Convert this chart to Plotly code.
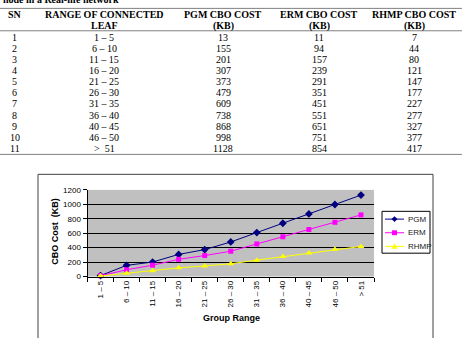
import plotly.graph_objects as go

# ---------------- data ----------------
sn = [1, 2, 3, 4, 5, 6, 7, 8, 9, 10, 11]
group_range = ["1 – 5", "6 – 10", "11 – 15", "16 – 20", "21 – 25", "26 – 30",
               "31 – 35", "36 – 40", "40 – 45", "46 – 50", "> 51"]
pgm = [13, 155, 201, 307, 373, 479, 609, 738, 868, 998, 1128]
erm = [11, 94, 157, 239, 291, 351, 451, 551, 651, 751, 854]
rhmp = [7, 44, 80, 121, 147, 177, 227, 277, 327, 377, 417]
series_names = ["PGM", "ERM", "RHMP"]
header_top = ["SN", "RANGE OF CONNECTED", "PGM CBO COST", "ERM CBO COST", "RHMP CBO COST"]
header_bot = ["", "LEAF", "(KB)", "(KB)", "(KB)"]
y_ticks = [0, 200, 400, 600, 800, 1000, 1200]

# ---------------- geometry helpers ----------------
W, H = 462, 338


def px(x):
    return x / W


def py(y):
    return 1 - y / H


colors = ["#000080", "#FF00FF", "#FFFF00"]
symbols = ["diamond", "square", "triangle-up"]
msizes = [6, 5, 6]

fig = go.Figure()
for name, vals, c, s, ms in zip(series_names, [pgm, erm, rhmp], colors, symbols, msizes):
    fig.add_trace(go.Scatter(
        x=group_range, y=vals, name=name, mode="lines+markers",
        line=dict(color=c, width=1),
        marker=dict(symbol=s, size=ms, color=c, line=dict(width=0)),
        showlegend=False, cliponaxis=False,
    ))

shapes = []
annotations = []

# ---------------- table ----------------
serif = dict(family="Liberation Serif, Times New Roman, serif", size=10, color="#000")
col_x = [15, 104, 223, 319, 414]
line_col = "#808080"
for y in [4.5, 27.5, 154.5]:
    shapes.append(dict(type="line", xref="paper", yref="paper",
                       x0=0, x1=1, y0=py(y), y1=py(y),
                       line=dict(color=line_col, width=1)))

# caption line above the table, cut by the top edge as in the reference
annotations.append(dict(text="<b>node in a Real-life network</b>", xref="paper", yref="paper",
                        x=px(1), y=py(3.5), xanchor="left", yanchor="bottom",
                        showarrow=False, font=serif))

for i, cx in enumerate(col_x):
    annotations.append(dict(text="<b>%s</b>" % header_top[i], xref="paper", yref="paper",
                            x=px(cx), y=py(11), xanchor="center", yanchor="middle",
                            showarrow=False, font=serif))
    if header_bot[i]:
        annotations.append(dict(text="<b>%s</b>" % header_bot[i], xref="paper", yref="paper",
                                x=px(cx), y=py(22.5), xanchor="center", yanchor="middle",
                                showarrow=False, font=serif))

for r in range(len(sn)):
    yy = 34 + r * 11.45
    rng = group_range[r].replace("> ", ">\u00a0\u00a0")
    row = [str(sn[r]), rng, str(pgm[r]), str(erm[r]), str(rhmp[r])]
    for cx, t in zip(col_x, row):
        annotations.append(dict(text=t, xref="paper", yref="paper",
                                x=px(cx), y=py(yy), xanchor="center", yanchor="middle",
                                showarrow=False, font=serif))

# ---------------- chart frame ----------------
shapes.append(dict(type="rect", xref="paper", yref="paper",
                   x0=px(38), x1=px(433), y0=py(345), y1=py(175),
                   line=dict(color="#404040", width=1), fillcolor="rgba(0,0,0,0)", layer="below"))

sans = "Liberation Sans, Arial, sans-serif"
annotations.append(dict(text="<b>Group Range</b>", xref="paper", yref="paper",
                        x=px(231), y=py(323), xanchor="center", yanchor="middle",
                        showarrow=False, font=dict(family=sans, size=9, color="#000")))
annotations.append(dict(text="<b>CBO Cost\u00a0 (KB)</b>", xref="paper", yref="paper",
                        x=px(55), y=py(234), xanchor="center", yanchor="middle", textangle=-90,
                        showarrow=False, font=dict(family=sans, size=9, color="#000")))

# ---------------- manual legend ----------------
shapes.append(dict(type="rect", xref="paper", yref="paper",
                   x0=px(382), x1=px(430), y0=py(256), y1=py(213),
                   line=dict(color="#000", width=1), fillcolor="#FFFFFF"))
for k, (name, c) in enumerate(zip(series_names, colors)):
    ly = 221 + k * 14
    shapes.append(dict(type="line", xref="paper", yref="paper",
                       x0=px(385), x1=px(404), y0=py(ly), y1=py(ly),
                       line=dict(color=c, width=1)))
    cx = 394.5
    if k == 0:
        path = "M %f,%f L %f,%f L %f,%f L %f,%f Z" % (
            px(cx), py(ly - 3), px(cx + 3), py(ly), px(cx), py(ly + 3), px(cx - 3), py(ly))
    elif k == 1:
        path = "M %f,%f L %f,%f L %f,%f L %f,%f Z" % (
            px(cx - 2.5), py(ly - 2.5), px(cx + 2.5), py(ly - 2.5),
            px(cx + 2.5), py(ly + 2.5), px(cx - 2.5), py(ly + 2.5))
    else:
        path = "M %f,%f L %f,%f L %f,%f Z" % (
            px(cx), py(ly - 3), px(cx + 3), py(ly + 2.5), px(cx - 3), py(ly + 2.5))
    shapes.append(dict(type="path", xref="paper", yref="paper", path=path,
                       fillcolor=c, line=dict(color=c, width=0)))
    annotations.append(dict(text=name, xref="paper", yref="paper",
                            x=px(406), y=py(ly), xanchor="left", yanchor="middle",
                            showarrow=False,
                            font=dict(family=sans, size=8, color="#222")))

fig.update_layout(
    width=W, height=H,
    margin=dict(l=0, r=0, t=0, b=0),
    paper_bgcolor="#FFFFFF",
    plot_bgcolor="#C0C0C0",
    shapes=shapes,
    annotations=annotations,
    showlegend=False,
    xaxis=dict(
        domain=[px(87.5), px(374)],
        type="category",
        range=[-0.5, 10.5],
        tickangle=-90,
        tickson="boundaries",
        ticks="outside", ticklen=4, tickcolor="#000", tickwidth=1,
        showline=True, linecolor="#000", linewidth=1,
        showgrid=False, zeroline=False,
        tickfont=dict(family=sans, size=8, color="#000"),
        fixedrange=True,
    ),
    yaxis=dict(
        domain=[py(280), py(191)],
        range=[0, 1200],
        tickvals=y_ticks,
        ticks="outside", ticklen=4, tickcolor="#000", tickwidth=1,
        showline=True, linecolor="#000", linewidth=1,
        showgrid=True, gridcolor="#000", gridwidth=1,
        zeroline=False,
        tickfont=dict(family=sans, size=8, color="#000"),
        fixedrange=True,
    ),
)

fig.write_html("out.html")
